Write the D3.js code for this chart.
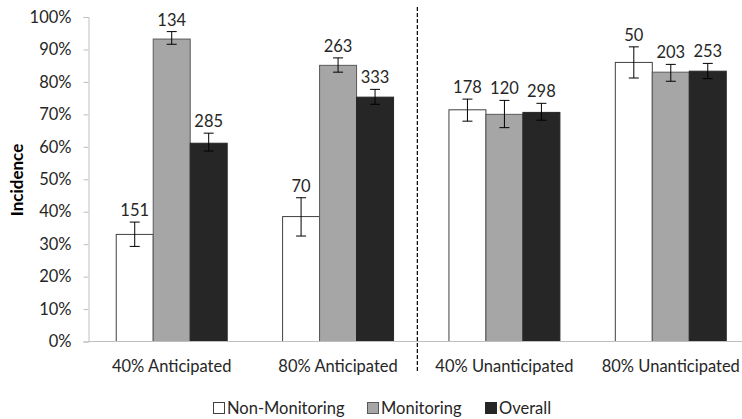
<!DOCTYPE html>
<html>
<head>
<meta charset="utf-8">
<script src="https://cdn.jsdelivr.net/npm/d3@7"></script>
<style>
  body { margin: 0; background: #fff; }
  text { font-family: Lato, "Open Sans", sans-serif; fill: #262626; }
</style>
</head>
<body>
<script>
    // chart values
    var categories = ['40% Anticipated', '80% Anticipated', '40% Unanticipated', '80% Unanticipated'];
    var seriesNames = ['Non-Monitoring', 'Monitoring', 'Overall'];
    var nonMonitoring = [0.330, 0.385, 0.714, 0.860];
    var monitoring    = [0.932, 0.851, 0.700, 0.830];
    var overall       = [0.611, 0.753, 0.706, 0.833];
    var nonMonitoringErr = [[0.293, 0.368], [0.325, 0.443], [0.679, 0.747], [0.812, 0.908]];
    var monitoringErr    = [[0.916, 0.955], [0.830, 0.874], [0.659, 0.743], [0.802, 0.854]];
    var overallErr       = [[0.587, 0.642], [0.731, 0.777], [0.682, 0.734], [0.810, 0.857]];
    var nonMonitoringN = [151, 70, 178, 50];
    var monitoringN    = [134, 263, 120, 203];
    var overallN       = [285, 333, 298, 253];
    var yTicks = [0, 0.1, 0.2, 0.3, 0.4, 0.5, 0.6, 0.7, 0.8, 0.9, 1.0];

    var fills = ['#ffffff', '#a6a6a6', '#262626'];
    var strokes = ['#404040', '#595959', '#262626'];
    var fontSize = '16.5px';

    var width = 742, height = 419;
    var plot = {left: 88.5, right: 754, top: 17, bottom: 341.5};

    var svg = d3.select('body').append('svg')
        .attr('width', width)
        .attr('height', height);

    var x = d3.scaleBand()
        .domain(categories)
        .range([plot.left, plot.right])
        .paddingInner(0.333)
        .paddingOuter(0.1667);

    var xs = d3.scaleBand()
        .domain(seriesNames)
        .range([0, x.bandwidth()]);

    var y = d3.scaleLinear()
        .domain([0, 1])
        .range([plot.bottom, plot.top]);

    // build rows: one per bar
    var allValues = [nonMonitoring, monitoring, overall];
    var allErr = [nonMonitoringErr, monitoringErr, overallErr];
    var allN = [nonMonitoringN, monitoringN, overallN];
    var rows = [];
    categories.forEach(function (c, i) {
        seriesNames.forEach(function (s, j) {
            rows.push({cat: c, series: s, idx: j, v: allValues[j][i],
                       lo: allErr[j][i][0], hi: allErr[j][i][1], n: allN[j][i]});
        });
    });

    // Y axis
    var yAxis = svg.append('g')
        .attr('transform', 'translate(' + plot.left + ',0)')
        .call(d3.axisLeft(y).tickValues(yTicks).tickFormat(d3.format('.0%')).tickSize(5).tickPadding(12));
    yAxis.select('.domain').attr('stroke', '#bfbfbf');
    yAxis.selectAll('.tick line').attr('stroke', '#bfbfbf');
    yAxis.selectAll('.tick text')
        .attr('font-size', fontSize)
        .attr('font-family', 'Lato, sans-serif')
        .attr('fill', '#404040');

    svg.append('text')
        .attr('transform', 'translate(23,' + 180 + ') rotate(-90)')
        .attr('text-anchor', 'middle')
        .attr('font-size', '17px')
        .attr('font-weight', 'bold')
        .attr('fill', '#000')
        .style('fill', '#000')
        .text('Incidence');

    // bars
    svg.selectAll('rect.bar')
        .data(rows)
        .enter().append('rect')
        .attr('class', 'bar')
        .attr('x', function (d) { return x(d.cat) + xs(d.series); })
        .attr('y', function (d) { return y(d.v); })
        .attr('width', xs.bandwidth())
        .attr('height', function (d) { return y(0) - y(d.v); })
        .attr('fill', function (d) { return fills[d.idx]; })
        .attr('stroke', function (d) { return strokes[d.idx]; })
        .attr('stroke-width', 1);

    // X axis line
    svg.append('line')
        .attr('x1', plot.left).attr('x2', plot.right)
        .attr('y1', y(0)).attr('y2', y(0))
        .attr('stroke', '#bfbfbf');

    // error bars
    var eb = svg.selectAll('g.err')
        .data(rows)
        .enter().append('g')
        .attr('class', 'err')
        .attr('stroke', '#000')
        .attr('stroke-width', 1);
    eb.append('line')
        .attr('x1', function (d) { return x(d.cat) + xs(d.series) + xs.bandwidth() / 2; })
        .attr('x2', function (d) { return x(d.cat) + xs(d.series) + xs.bandwidth() / 2; })
        .attr('y1', function (d) { return y(d.lo); })
        .attr('y2', function (d) { return y(d.hi); });
    ['lo', 'hi'].forEach(function (k) {
        eb.append('line')
            .attr('x1', function (d) { return x(d.cat) + xs(d.series) + xs.bandwidth() / 2 - 5; })
            .attr('x2', function (d) { return x(d.cat) + xs(d.series) + xs.bandwidth() / 2 + 5; })
            .attr('y1', function (d) { return y(d[k]); })
            .attr('y2', function (d) { return y(d[k]); });
    });

    // n labels
    svg.selectAll('text.n')
        .data(rows)
        .enter().append('text')
        .attr('class', 'n')
        .attr('x', function (d) { return x(d.cat) + xs(d.series) + xs.bandwidth() / 2; })
        .attr('y', function (d) { return y(d.hi) - 6; })
        .attr('text-anchor', 'middle')
        .attr('font-size', fontSize)
        .text(function (d) { return d.n; });

    // category labels
    svg.selectAll('text.cat')
        .data(categories)
        .enter().append('text')
        .attr('class', 'cat')
        .attr('x', function (d) { return x(d) + x.bandwidth() / 2; })
        .attr('y', 372)
        .attr('text-anchor', 'middle')
        .attr('font-size', fontSize)
        .text(function (d) { return d; });

    // dashed divider between anticipated and unanticipated
    var divX = x(categories[2]) - x.step() * 0.19;
    svg.append('line')
        .attr('x1', divX).attr('x2', divX)
        .attr('y1', 7).attr('y2', 373)
        .attr('stroke', '#000')
        .attr('stroke-width', 1.2)
        .attr('stroke-dasharray', '4,2');

    // legend
    var legendX = [213, 367, 485];
    var legend = svg.selectAll('g.legend')
        .data(seriesNames)
        .enter().append('g')
        .attr('class', 'legend')
        .attr('transform', function (d, i) { return 'translate(' + legendX[i] + ',402)'; });
    legend.append('rect')
        .attr('x', 0.5).attr('y', 0.5)
        .attr('width', 11).attr('height', 11)
        .attr('fill', function (d, i) { return fills[i]; })
        .attr('stroke', function (d, i) { return strokes[i]; });
    legend.append('text')
        .attr('x', 14)
        .attr('y', 12)
        .attr('font-size', fontSize)
        .text(function (d) { return d; });
</script>
</body>
</html>
